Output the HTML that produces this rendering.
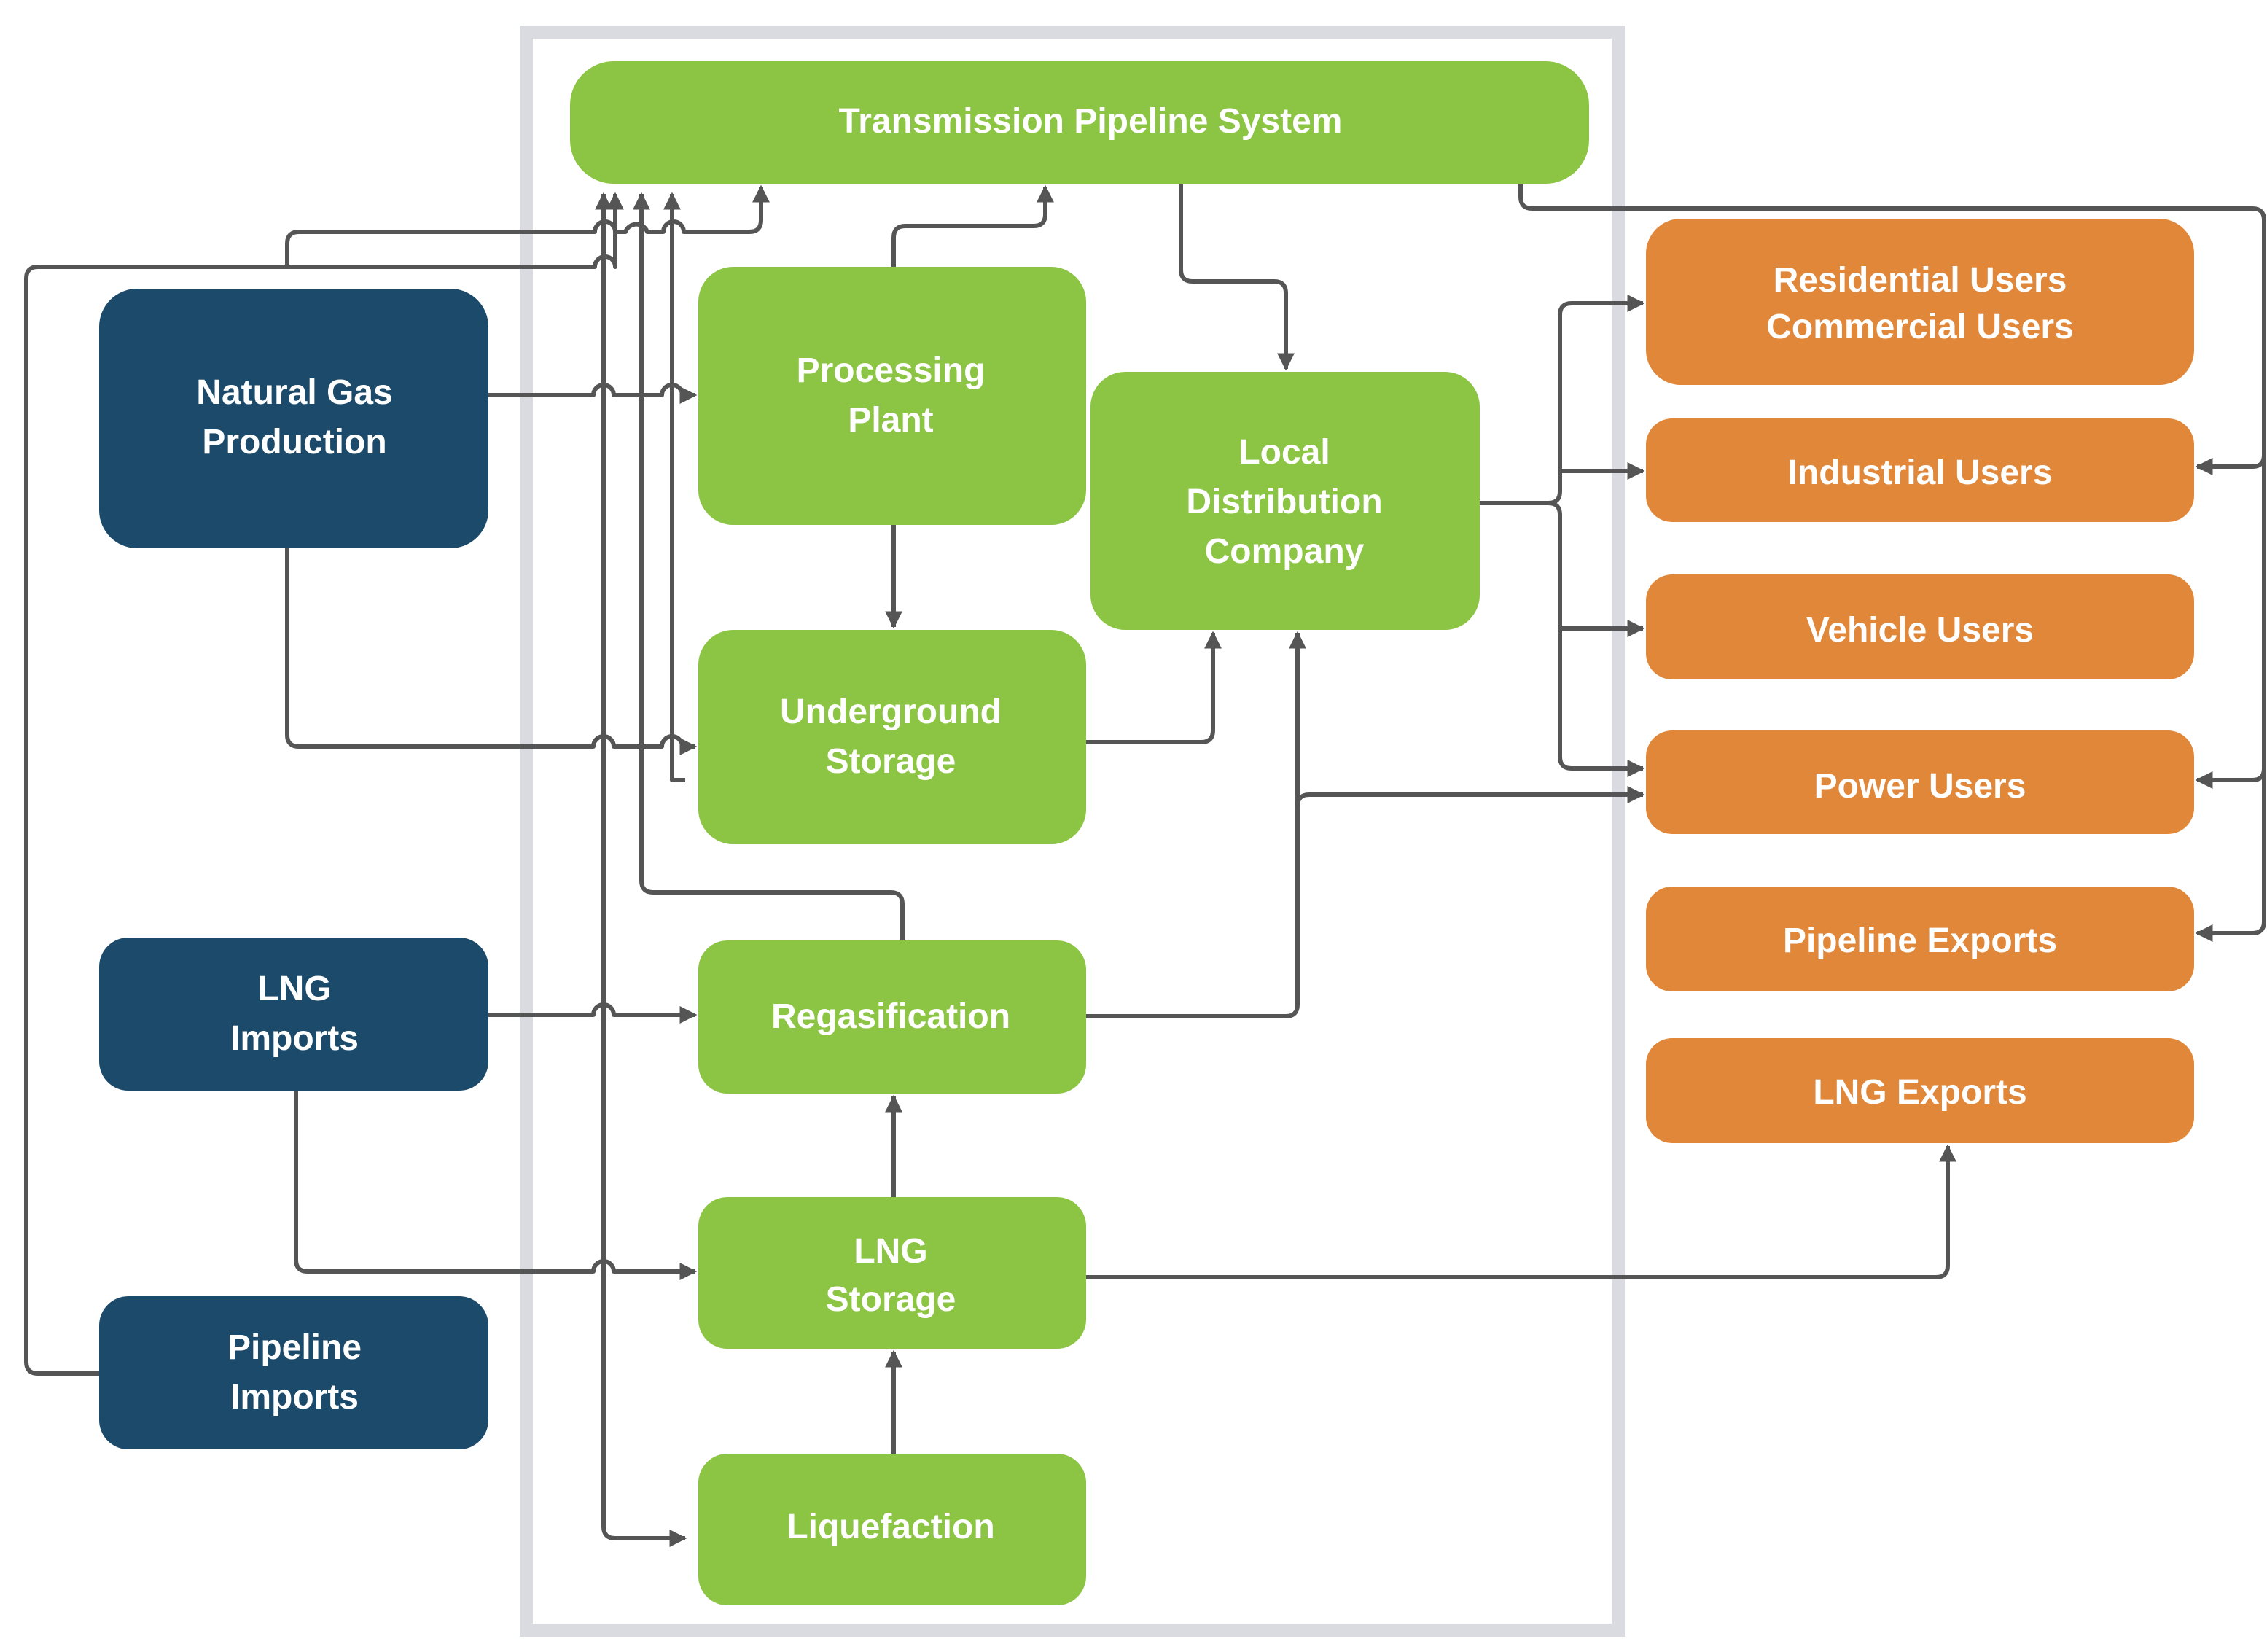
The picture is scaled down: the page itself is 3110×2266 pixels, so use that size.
<!DOCTYPE html>
<html><head><meta charset="utf-8"><style>
html,body{margin:0;padding:0;background:#fff;}
svg{display:block;}
text{font-family:"Liberation Sans",sans-serif;font-weight:bold;fill:#fff;font-size:24px;text-anchor:middle;}
</style></head><body>
<svg width="3110" height="2266" viewBox="0 0 1555 1133" xmlns="http://www.w3.org/2000/svg">
<defs>
<marker id="a" viewBox="0 0 10 10" refX="9" refY="5" markerWidth="4" markerHeight="4" orient="auto" markerUnits="strokeWidth"><path d="M0,0 L10,5 L0,10 z" fill="#555"/></marker>
</defs>
<rect x="361" y="22" width="749" height="1096" fill="none" stroke="#d9dbe1" stroke-width="9"/>
<g fill="#8cc444">
<rect x="391" y="42" width="699" height="84" rx="30"/>
<rect x="479" y="183" width="266" height="177" rx="24"/>
<rect x="479" y="432" width="266" height="147" rx="24"/>
<rect x="748" y="255" width="267" height="177" rx="24"/>
<rect x="479" y="645" width="266" height="105" rx="20"/>
<rect x="479" y="821" width="266" height="104" rx="20"/>
<rect x="479" y="997" width="266" height="104" rx="20"/>
</g>
<g fill="#1c4a6a">
<rect x="68" y="198" width="267" height="178" rx="26"/>
<rect x="68" y="643" width="267" height="105" rx="20"/>
<rect x="68" y="889" width="267" height="105" rx="20"/>
</g>
<g fill="#e0873a">
<rect x="1129" y="150" width="376" height="114" rx="24"/>
<rect x="1129" y="287" width="376" height="71" rx="18"/>
<rect x="1129" y="394" width="376" height="72" rx="18"/>
<rect x="1129" y="501" width="376" height="71" rx="18"/>
<rect x="1129" y="608" width="376" height="72" rx="18"/>
<rect x="1129" y="712" width="376" height="72" rx="18"/>
</g>
<g fill="none" stroke="#555" stroke-width="3" stroke-linejoin="round">
<!-- pipeline imports -->
<path d="M68,942 H26 Q18,942 18,934 V191 Q18,183 26,183 H408 A7,7 0 0 1 422,183 V133" marker-end="url(#a)"/>
<path d="M197,183 V167 Q197,159 205,159 H408 A7,7 0 0 1 422,159 H429 A8,8 0 0 1 444,159 H455 A7,7 0 0 1 469,159 H514 Q522,159 522,151 V128" marker-end="url(#a)"/>
<!-- vertical x=414 -->
<path d="M414,1047 Q414,1055 422,1055 H470" marker-end="url(#a)"/>
<path d="M414,1047 V133" marker-end="url(#a)"/>
<!-- x=440 regas -->
<path d="M619,645 V620 Q619,612 611,612 H448 Q440,612 440,604 V133" marker-end="url(#a)"/>
<!-- x=461 underground -->
<path d="M470,535 H461 V133" marker-end="url(#a)"/>
<!-- natural gas -> processing -->
<path d="M335,271 H407 A7,7 0 0 1 421,271 H454 A7,7 0 0 1 468,271 H477" marker-end="url(#a)"/>
<!-- natural gas -> underground -->
<path d="M197,376 V504 Q197,512 205,512 H407 A7,7 0 0 1 421,512 H454 A7,7 0 0 1 468,512 H477" marker-end="url(#a)"/>
<!-- lng imports -> regas -->
<path d="M335,696 H407 A7,7 0 0 1 421,696 H477" marker-end="url(#a)"/>
<!-- lng imports -> lng storage -->
<path d="M203,748 V864 Q203,872 211,872 H407 A7,7 0 0 1 421,872 H477" marker-end="url(#a)"/>
<!-- processing -> transmission -->
<path d="M613,183 V163 Q613,155 621,155 H709 Q717,155 717,147 V128" marker-end="url(#a)"/>
<path d="M613,360 V430" marker-end="url(#a)"/>
<!-- underground -> LDC -->
<path d="M745,509 H824 Q832,509 832,501 V434" marker-end="url(#a)"/>
<!-- transmission -> LDC -->
<path d="M810,126 V185 Q810,193 818,193 H874 Q882,193 882,201 V253" marker-end="url(#a)"/>
<!-- regas -> LDC / power -->
<path d="M745,697 H882 Q890,697 890,689 V434" marker-end="url(#a)"/>
<path d="M890,553 Q890,545 898,545 H1127" marker-end="url(#a)"/>
<!-- LDC -> users -->
<path d="M1015,345 H1062 Q1070,345 1070,337 V216 Q1070,208 1078,208 H1127" marker-end="url(#a)"/>
<path d="M1070,323 H1127" marker-end="url(#a)"/>
<path d="M1062,345 Q1070,345 1070,353 V519 Q1070,527 1078,527 H1127" marker-end="url(#a)"/>
<path d="M1070,431 H1127" marker-end="url(#a)"/>
<!-- transmission -> right users -->
<path d="M1043,126 V135 Q1043,143 1051,143 H1545 Q1553,143 1553,151 V632 Q1553,640 1545,640 H1507" marker-end="url(#a)"/>
<path d="M1553,312 Q1553,320 1545,320 H1507" marker-end="url(#a)"/>
<path d="M1553,527 Q1553,535 1545,535 H1507" marker-end="url(#a)"/>
<!-- lng storage -> lng exports -->
<path d="M745,876 H1328 Q1336,876 1336,868 V786" marker-end="url(#a)"/>
<path d="M613,821 V752" marker-end="url(#a)"/>
<path d="M613,997 V927" marker-end="url(#a)"/>
</g>
<text x="748" y="91">Transmission Pipeline System</text>
<text x="611" y="262">Processing</text><text x="611" y="296">Plant</text>
<text x="611" y="496">Underground</text><text x="611" y="530">Storage</text>
<text x="881" y="318">Local</text><text x="881" y="352">Distribution</text><text x="881" y="386">Company</text>
<text x="611" y="705">Regasification</text>
<text x="611" y="866">LNG</text><text x="611" y="899">Storage</text>
<text x="611" y="1055">Liquefaction</text>
<text x="202" y="277">Natural Gas</text><text x="202" y="311">Production</text>
<text x="202" y="686">LNG</text><text x="202" y="720">Imports</text>
<text x="202" y="932">Pipeline</text><text x="202" y="966">Imports</text>
<text x="1317" y="200">Residential Users</text><text x="1317" y="232">Commercial Users</text>
<text x="1317" y="332">Industrial Users</text>
<text x="1317" y="440">Vehicle Users</text>
<text x="1317" y="547">Power Users</text>
<text x="1317" y="653">Pipeline Exports</text>
<text x="1317" y="757">LNG Exports</text>
</svg>
</body></html>
